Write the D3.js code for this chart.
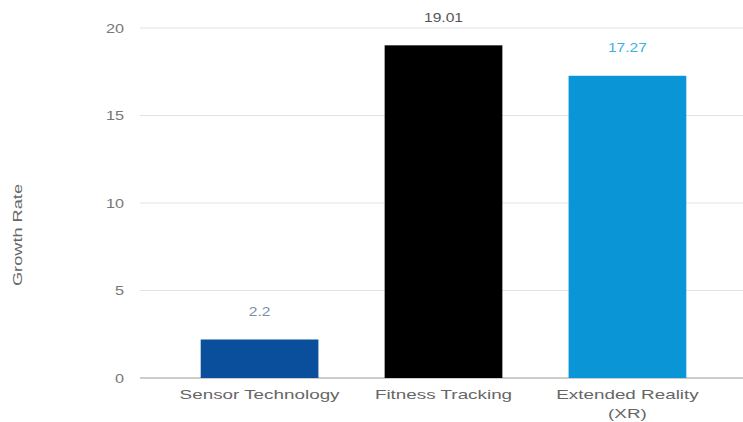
<!DOCTYPE html>
<html lang="en">
<meta charset="UTF-8">
<script src="https://d3js.org/d3.v7.min.js"></script>
<style>
  body { margin:0; background:#fff; font-family:"Liberation Sans", Arial, sans-serif; overflow:hidden; }
  svg { display:block; }
</style>
<body>
<div id="chart"></div>
<script>
const categories = ["Sensor Technology", "Fitness Tracking", "Extended Reality (XR)"]
const growthRates = [2.2, 19.01, 17.27]
const barColors = ["#0a4f9c", "#000000", "#0a96d6"]
const labelColors = ["#7a8fa8", "#555555", "#3fb0e0"]
const yTicks = [0, 5, 10, 15, 20]

const width = 743, height = 422
const margin = {top: 28, right: 0, bottom: 44, left: 140}
// the text in this chart looks wider than it is tall
const stretch = 1.45

const svg = d3.select("#chart").append("svg")
    .attr("width", width)
    .attr("height", height)

const x = d3.scaleBand()
    .domain(categories)
    .range([margin.left, width + 4])
    .paddingInner(0.36)
    .paddingOuter(0.33)

const y = d3.scaleLinear()
    .domain([0, 20])
    .range([height - margin.bottom, margin.top])

// gridlines
svg.append("g")
  .selectAll("line")
  .data(yTicks)
  .join("line")
    .attr("x1", margin.left)
    .attr("x2", width)
    .attr("y1", d => y(d))
    .attr("y2", d => y(d))
    .attr("stroke", d => d === 0 ? "#999" : "#e3e3e3")
    .attr("stroke-width", 1)

// y tick labels
svg.append("g")
  .selectAll("text")
  .data(yTicks)
  .join("text")
    .attr("transform", d => `translate(${margin.left - 16},${y(d)}) scale(1.25,1)`)
    .attr("dy", "0.35em")
    .attr("text-anchor", "end")
    .attr("fill", "#777")
    .style("font-size", "13px")
    .text(d => d)

// bars
svg.append("g")
  .selectAll("rect")
  .data(categories)
  .join("rect")
    .attr("x", d => x(d))
    .attr("width", x.bandwidth())
    .attr("y", (d, i) => y(growthRates[i]))
    .attr("height", (d, i) => y(0) - y(growthRates[i]))
    .attr("fill", (d, i) => barColors[i])

// value labels
svg.append("g")
  .selectAll("text")
  .data(categories)
  .join("text")
    .attr("transform", (d, i) => `translate(${x(d) + x.bandwidth() / 2},${y(growthRates[i]) - 28}) scale(1.2,1)`)
    .attr("dy", "0.35em")
    .attr("text-anchor", "middle")
    .attr("fill", (d, i) => labelColors[i])
    .style("font-size", "13px")
    .text((d, i) => growthRates[i])

// x labels, wrap the long one
const xLabels = svg.append("g")
  .selectAll("text")
  .data(categories)
  .join("text")
    .attr("transform", d => `translate(${x(d) + x.bandwidth() / 2},${y(0) + 21}) scale(${stretch},1)`)
    .attr("text-anchor", "middle")
    .attr("fill", "#666")
    .style("font-size", "13px")

xLabels.each(function(d) {
  const t = d3.select(this)
  const lines = d === "Extended Reality (XR)" ? ["Extended Reality", "(XR)"] : [d]
  lines.forEach((l, i) => {
    t.append("tspan")
      .attr("x", 0)
      .attr("dy", i === 0 ? 0 : 19)
      .text(l)
  })
})

// y axis title
svg.append("text")
    .attr("transform", `translate(22, ${(y(0) + y(20)) / 2 + 32}) rotate(-90) scale(1.4,1)`)
    .attr("text-anchor", "middle")
    .attr("fill", "#666")
    .style("font-size", "13px")
    .text("Growth Rate")
</script>
</body>
</html>
